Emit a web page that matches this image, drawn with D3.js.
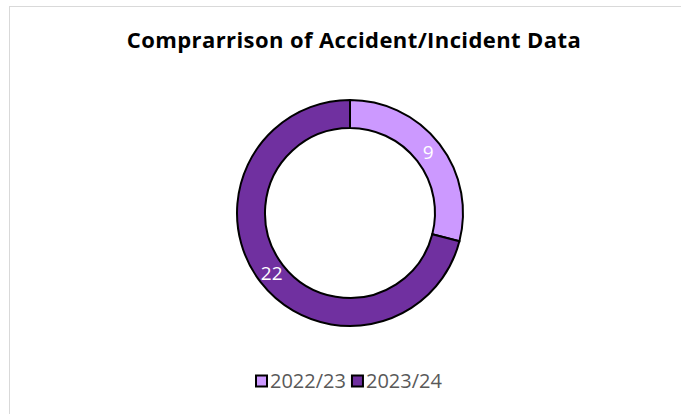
<!DOCTYPE html>
<html>
<head>
<meta charset="utf-8">
<script src="https://cdn.jsdelivr.net/npm/d3@7"></script>
<style>
  html, body { margin: 0; padding: 0; background: #fff; }
  svg { display: block; }
</style>
</head>
<body>
<div id="chart"></div>
<script>
const TITLE = 'Comprarrison of Accident/Incident Data';
const CATEGORIES = ['2022/23', '2023/24'];
const VALUES = [9, 22];
const COLORS = ['#cc99ff', '#7030a0'];

const width = 681, height = 414;
const cx = 350, cy = 213;
const outerR = 113, innerR = 85;
const FONT = '"Open Sans", "Noto Sans", sans-serif';

const svg = d3.select('#chart').append('svg')
  .attr('width', width).attr('height', height);

svg.append('rect').attr('width', width).attr('height', height).attr('fill', '#fff');

// chart area border (runs off the right and bottom edge)
svg.append('rect')
  .attr('x', 9.5).attr('y', 6.5).attr('width', 700).attr('height', 450)
  .attr('fill', 'none').attr('stroke', '#d9d9d9').attr('stroke-width', 1);

svg.append('text')
  .attr('x', 354).attr('y', 48)
  .attr('text-anchor', 'middle')
  .style('font-family', FONT)
  .style('font-weight', 'bold')
  .style('font-size', '22px')
  .style('letter-spacing', '0.4px')
  .attr('fill', '#000')
  .text(TITLE);

const data = CATEGORIES.map((c, i) => ({ name: c, value: VALUES[i], color: COLORS[i] }));
const pie = d3.pie().value(d => d.value).sort(null);
const arc = d3.arc().innerRadius(innerR).outerRadius(outerR);
const labelArc = d3.arc().innerRadius(99).outerRadius(99);

const g = svg.append('g').attr('transform', `translate(${cx},${cy})`);

g.selectAll('path').data(pie(data)).enter().append('path')
  .attr('d', arc)
  .attr('fill', d => d.data.color)
  .attr('stroke', '#000').attr('stroke-width', 2);

g.selectAll('text.lbl').data(pie(data)).enter().append('text')
  .attr('class', 'lbl')
  .attr('transform', d => `translate(${labelArc.centroid(d)})`)
  .attr('text-anchor', 'middle')
  .attr('dy', '0.35em')
  .style('font-family', FONT)
  .style('font-size', '19px')
  .attr('fill', '#fff')
  .text(d => d.data.value);

// legend
const legend = svg.append('g').attr('transform', 'translate(255,381)');
let lx = 0;
data.forEach(d => {
  legend.append('rect')
    .attr('x', lx + 1).attr('y', -5.5).attr('width', 11).attr('height', 11)
    .attr('fill', d.color).attr('stroke', '#000').attr('stroke-width', 2);
  const t = legend.append('text')
    .attr('x', lx + 15).attr('y', 0).attr('dy', '0.36em')
    .style('font-family', FONT)
    .style('font-size', '20px')
    .attr('fill', '#595959')
    .text(d.name);
  lx += 15 + t.node().getComputedTextLength() + 5;
});
</script>
</body>
</html>
